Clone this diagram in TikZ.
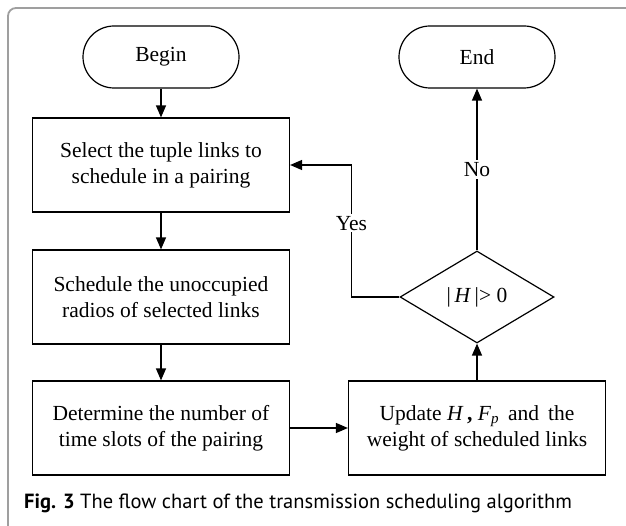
\documentclass[tikz,border=0pt]{standalone}
\usepackage{fontspec}
\setmainfont{Liberation Serif}
\newfontfamily\capfont{PT Sans}
\usetikzlibrary{shapes.geometric, arrows.meta}

\begin{document}
\begin{tikzpicture}[x=1pt, y=1pt, node distance=132pt]
	\tikzstyle{boxfont} = [font=\fontsize{21.5}{26}\selectfont]
	\tikzstyle{startstop} = [rectangle, rounded corners=31pt, minimum width=156pt, 
	minimum height=62pt, text centered, draw=black, line width=1.2pt, boxfont]
	\tikzstyle{process} = [rectangle, minimum width=257pt, minimum height=94pt, 
	align=center, draw=black, line width=1.2pt, boxfont]
	\tikzstyle{decision} = [diamond, aspect=1.67, minimum width=154pt, 
	minimum height=92pt, inner sep=0pt, draw=black, line width=1.2pt, boxfont]
	\tikzstyle{arrow} = [line width=1.3pt, -{Triangle[length=12pt, width=10pt]}]
	\tikzstyle{branch} = [fill=white, inner sep=2pt, boxfont]
	\useasboundingbox (0,0) rectangle (626,525);
	% frame and caption
	\draw [gray!75, line width=1.8pt, rounded corners=8pt] (8,-10) -- (8,517) -- (640,517);
	\node (caption) [anchor=base west, inner sep=0pt, font=\capfont\fontsize{20.5}{24}\selectfont] 
	at (24,17) {\textbf{Fig. 3} The flow chart of the transmission scheduling algorithm};
	% flow chart
	\node (select) [process] at (161,360) {Select the tuple links to\\schedule in a pairing};
	\node (begin) [startstop, above of=select, yshift=-24pt] {Begin};
	\node (schedule) [process, below of=select] {Schedule the unoccupied\\radios of selected links};
	\node (determine) [process, below of=schedule, yshift=1pt] {Determine the number of\\time slots of the pairing};
	\node (update) [process, right of=determine, xshift=184pt] {Update \textit{H}\,\textbf{,} \textit{F}\textsubscript{\textit{p}}\, and\, the\\weight of scheduled links};
	\node (check) [decision, above of=update, yshift=-1pt] {|\,\textit{H}\,|> 0};
	\node (end) [startstop, above of=check, yshift=108pt] {End};
	\draw [arrow] (begin) -- (select);
	\draw [arrow] (select) -- (schedule);
	\draw [arrow] (schedule) -- (determine);
	\draw [arrow] (determine) -- (update);
	\draw [arrow] (update) -- (check);
	\draw [arrow] (check) -- node [branch] {No} (end);
	\draw [arrow] (check.west) -- ++(-48,0) |- node [branch, pos=0.28] {Yes} (select.east);
\end{tikzpicture}
\end{document}
